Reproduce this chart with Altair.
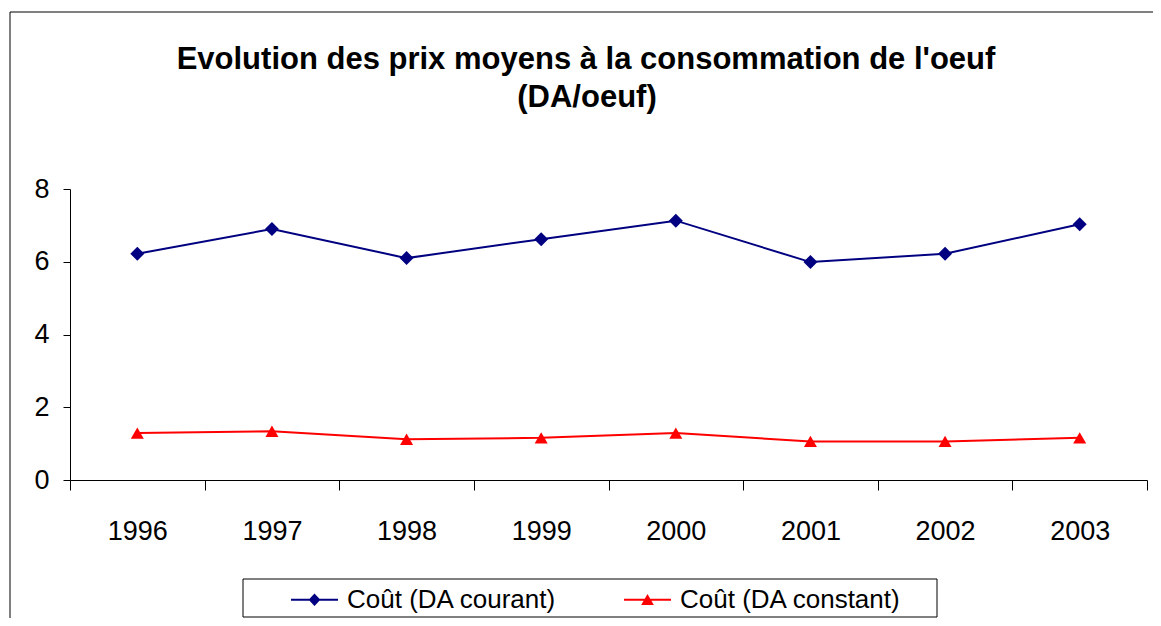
import altair as alt
import pandas as pd

years = ["1996", "1997", "1998", "1999", "2000", "2001", "2002", "2003"]
courant = [6.22, 6.90, 6.10, 6.62, 7.13, 5.99, 6.22, 7.03]
constant = [1.29, 1.34, 1.12, 1.16, 1.29, 1.06, 1.06, 1.16]
series = ["Coût (DA courant)", "Coût (DA constant)"]
colors = ["#000080", "#FF0000"]
shapes = ["diamond", "triangle-up"]
legend_paths = [
    "M-1,-0.043H1V0.043H-1ZM0,-0.27L0.25,0L0,0.27L-0.25,0Z",
    "M-1,-0.043H1V0.043H-1ZM0,-0.24L0.27,0.22H-0.27Z",
]
title_lines = ["Evolution des prix moyens à la consommation de l'oeuf", "(DA/oeuf)"]

rows = []
for i, y in enumerate(years):
    rows.append({"year": y, "value": courant[i], "series": series[0]})
    rows.append({"year": y, "value": constant[i], "series": series[1]})
df = pd.DataFrame(rows)

FONT = "Liberation Sans"

xenc = alt.X("year:N", scale=alt.Scale(type="band", domain=years, paddingInner=0, paddingOuter=0),
             bandPosition=0.5,
             axis=alt.Axis(title=None, labelAngle=0, tickBand="extent", tickSize=10,
                           labelPadding=28, labelFontSize=27))
yenc = alt.Y("value:Q", scale=alt.Scale(domain=[0, 8], nice=False, zero=True),
             axis=alt.Axis(title=None, values=[0, 2, 4, 6, 8], tickSize=7, labelPadding=14,
                           labelFontSize=27))

base = alt.Chart(df)
s0 = base.transform_filter(alt.datum.series == series[0])
s1 = base.transform_filter(alt.datum.series == series[1])

line0 = s0.mark_line(strokeWidth=2, color=colors[0]).encode(x=xenc, y=yenc)
line1 = s1.mark_line(strokeWidth=2, color=colors[1]).encode(x=xenc, y=yenc)
pts0 = s0.mark_point(filled=True, size=196, opacity=1, shape=shapes[0], color=colors[0]).encode(x=xenc, y=yenc)
pts1 = s1.mark_point(filled=True, size=170, opacity=1, shape=shapes[1], color=colors[1]).encode(x=xenc, y=yenc)

leg = alt.Legend(title=None, orient="none", direction="horizontal",
                 legendX=221, legendY=387, padding=0, columnPadding=67,
                 symbolSize=2209, symbolStrokeWidth=0, symbolOpacity=1,
                 labelFontSize=26, labelFont=FONT, labelColor="black",
                 labelOffset=9, labelLimit=400)

# legend-only layer: its marks are pushed outside the visible page
legend_layer = base.mark_point(filled=True, opacity=1, size=2209).encode(
    x=xenc, y=alt.value(3000),
    color=alt.Color("series:N", scale=alt.Scale(domain=series, range=colors), legend=leg),
    shape=alt.Shape("series:N", scale=alt.Scale(domain=series, range=legend_paths), legend=leg),
)

deco = alt.Data(values=[{"k": 1}])
outer_border = alt.Chart(deco).mark_rect(fill=None, stroke="black", strokeWidth=1).encode(
    x=alt.value(-60), x2=alt.value(1200), y=alt.value(-177), y2=alt.value(600))
legend_box = alt.Chart(deco).mark_rect(fill=None, stroke="black", strokeWidth=1).encode(
    x=alt.value(173), x2=alt.value(867), y=alt.value(390), y2=alt.value(428))
title1 = alt.Chart(deco).mark_text(font=FONT, fontSize=31, fontWeight="bold", color="black",
                                   align="center", baseline="alphabetic").encode(
    x=alt.value(516), y=alt.value(-120), text=alt.value(title_lines[0]))
title2 = alt.Chart(deco).mark_text(font=FONT, fontSize=31, fontWeight="bold", color="black",
                                   align="center", baseline="alphabetic").encode(
    x=alt.value(517), y=alt.value(-82), text=alt.value(title_lines[1]))

chart = alt.layer(outer_border, title1, title2, line0, line1, pts0, pts1,
                  legend_layer, legend_box).properties(
    width=1077, height=291,
    autosize=alt.AutoSizeParams(type="none"),
    padding={"left": 62, "top": 181, "right": 6, "bottom": 138},
    background="white",
).configure_view(stroke=None).configure_axis(
    grid=False, labelFont=FONT, labelColor="black", domainColor="black", tickColor="black",
    domainWidth=1, tickWidth=1,
)

chart.save("out.html", embed_options={"renderer": "svg", "actions": False})
